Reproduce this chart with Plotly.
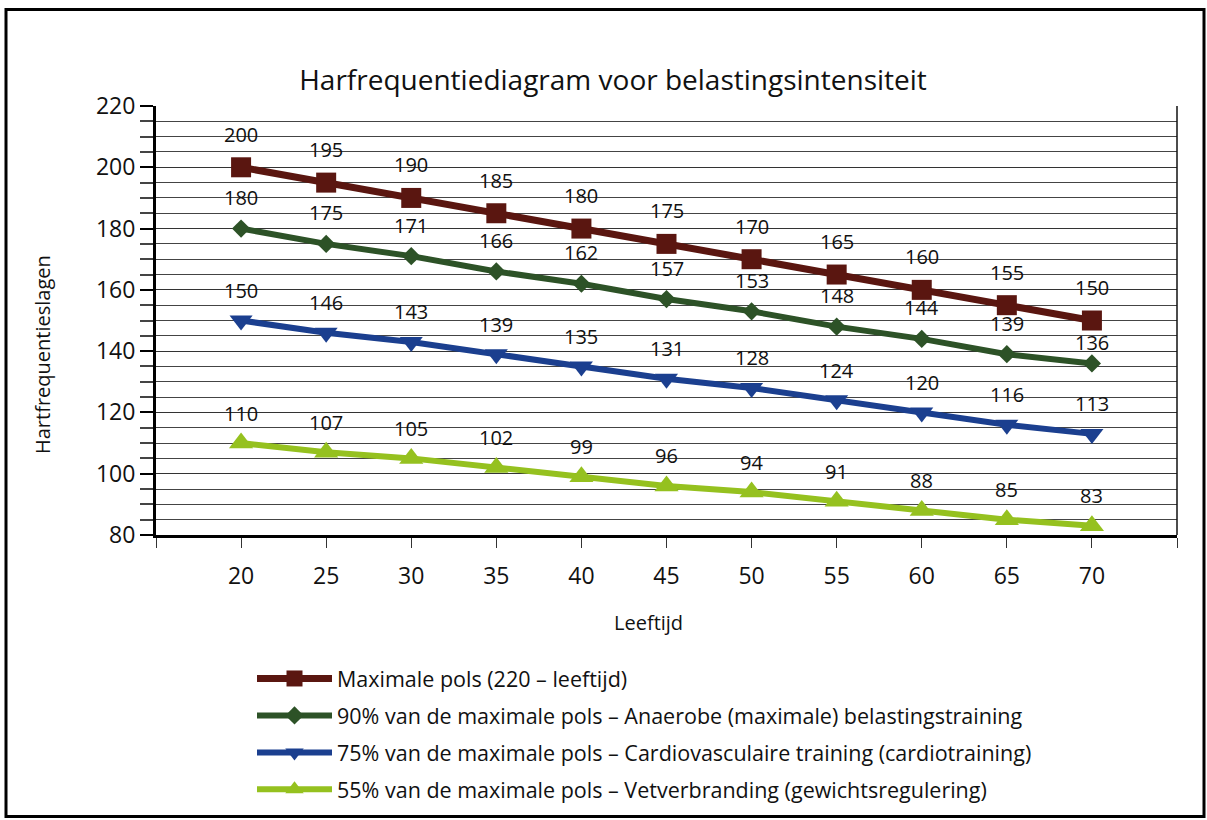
import plotly.graph_objects as go

ages = [20, 25, 30, 35, 40, 45, 50, 55, 60, 65, 70]
max_pols = [200, 195, 190, 185, 180, 175, 170, 165, 160, 155, 150]
pols_90 = [180, 175, 171, 166, 162, 157, 153, 148, 144, 139, 136]
pols_75 = [150, 146, 143, 139, 135, 131, 128, 124, 120, 116, 113]
pols_55 = [110, 107, 105, 102, 99, 96, 94, 91, 88, 85, 83]

series_names = [
    "Maximale pols (220 – leeftijd)",
    "90% van de maximale pols – Anaerobe (maximale) belastingstraining",
    "75% van de maximale pols – Cardiovasculaire training (cardiotraining)",
    "55% van de maximale pols – Vetverbranding (gewichtsregulering)",
]
series_values = [max_pols, pols_90, pols_75, pols_55]
colors = ["#5a1610", "#2d5227", "#1b3f8f", "#95c11f"]
symbols = ["square", "diamond", "triangle-down", "triangle-up"]
marker_sizes = [20, 14, 20, 21]
line_widths = [7, 6, 6, 6]
label_shift = [33, 31, 30, 30]

FONT = "Open Sans"

W, H = 1207, 820
L, R, T, B = 156, 30, 106, 285
pw, ph = W - L - R, H - T - B


def px_x(px):
    return (px - L) / pw


def px_y(py):
    return (H - B - py) / ph


fig = go.Figure()
for k, (name, vals, col, sym, ms, lw) in enumerate(zip(series_names, series_values, colors,
                                                       symbols, marker_sizes, line_widths)):
    fig.add_trace(go.Scatter(
        x=ages, y=vals, name=name, mode="lines+markers",
        line=dict(color=col, width=lw),
        marker=dict(symbol=sym, size=ms, color=col),
        legendgroup=name,
    ))
    for i, (a, v) in enumerate(zip(ages, vals)):
        shift = label_shift[k]
        # last green label sits lower so it clears the maroon marker above it
        if k == 1 and i == len(ages) - 1:
            shift = 21
        fig.add_annotation(x=a, y=v, text=str(v), showarrow=False,
                           yshift=shift, font=dict(size=20, color="#111111", family=FONT))

# axis titles
fig.add_annotation(xref="paper", yref="paper", x=px_x(42), y=px_y(355),
                   xanchor="center", yanchor="middle",
                   text="Hartfrequentieslagen", textangle=-90, showarrow=False,
                   font=dict(size=20, color="#111111", family=FONT))
fig.add_annotation(xref="paper", yref="paper", x=px_x(648), y=px_y(622),
                   xanchor="center", yanchor="middle",
                   text="Leeftijd", showarrow=False,
                   font=dict(size=20, color="#111111", family=FONT))

# right edge of plot area and outer frame
fig.add_shape(type="line", xref="paper", yref="paper", x0=1, x1=1, y0=0, y1=1,
              line=dict(color="#111111", width=1.5))
fig.add_shape(type="rect", xref="paper", yref="paper",
              x0=px_x(6), x1=px_x(1204), y0=px_y(9.5), y1=px_y(816.5),
              line=dict(color="#000000", width=3))

fig.update_layout(
    width=W, height=H,
    margin=dict(l=L, r=R, t=T, b=B, autoexpand=False),
    paper_bgcolor="white", plot_bgcolor="white",
    font=dict(family=FONT, color="#111111"),
    title=dict(text="Harfrequentiediagram voor belastingsintensiteit",
               x=613 / W, xanchor="center", y=1 - 80 / H, yanchor="middle",
               font=dict(size=28, family=FONT, color="#111111")),
    showlegend=True,
    legend=dict(x=px_x(252), y=px_y(658), xanchor="left", yanchor="top",
                font=dict(size=21.5, family=FONT, color="#111111"),
                tracegroupgap=6, itemwidth=75, bgcolor="rgba(0,0,0,0)"),
)

fig.update_xaxes(
    range=[15, 75], tickmode="array", tickvals=ages, ticktext=[str(a) for a in ages],
    showgrid=False, zeroline=False,
    showline=True, linecolor="#000000", linewidth=3,
    ticks="outside", ticklen=10, tickcolor="#333333", tickwidth=1,
    ticklabelstandoff=8,
    tickfont=dict(size=23, family=FONT, color="#111111"),
    minor=dict(tickvals=[15, 75], ticks="outside", ticklen=10, tickcolor="#333333"),
)
fig.update_yaxes(
    range=[80, 220], dtick=20, tick0=80,
    showgrid=True, gridcolor="#333333", gridwidth=1.2,
    zeroline=False,
    showline=True, linecolor="#000000", linewidth=3,
    ticks="outside", ticklen=13, tickcolor="#000000", tickwidth=2,
    tickfont=dict(size=23, family=FONT, color="#111111"),
    minor=dict(dtick=5, showgrid=True, gridcolor="#444444", gridwidth=1.2,
               ticks="outside", ticklen=13, tickcolor="#444444"),
)

fig.write_html("out.html")
